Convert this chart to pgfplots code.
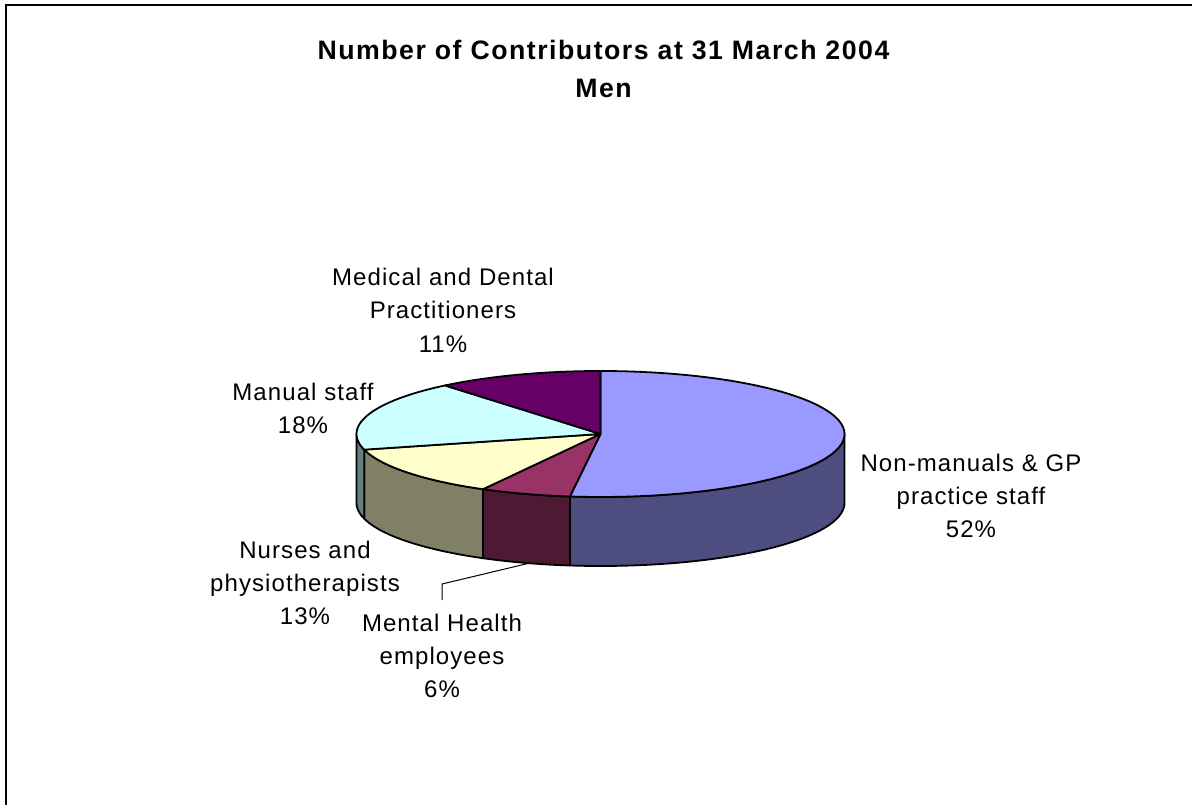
\documentclass[border=0pt]{standalone}
\usepackage{fontspec}
\setmainfont{Liberation Sans}
\usepackage{pgfplots}
\usepackage{pgfplotstable}
\pgfplotsset{compat=1.18}

% Share of contributors per staff group, clockwise from twelve o'clock
\pgfplotstableread{
row share
0   52
1   6
2   13
3   18
4   11
}\pietable

\definecolor{pieTop0}{HTML}{9999FF}
\definecolor{pieTop1}{HTML}{993366}
\definecolor{pieTop2}{HTML}{FFFFCC}
\definecolor{pieTop3}{HTML}{CCFFFF}
\definecolor{pieTop4}{HTML}{660066}
\definecolor{pieWall0}{HTML}{4D4D80}
\definecolor{pieWall1}{HTML}{4D1933}
\definecolor{pieWall2}{HTML}{808066}
\definecolor{pieWall3}{HTML}{668080}
\definecolor{pieWall4}{HTML}{330033}

% Ellipse of the disc and height of its rim, in axis units
\def\cx{600.5}
\def\cy{434}
\def\rx{244}
\def\ry{63}
\def\rim{69}

% Appends points of the arc from angle #1 to #2 to \ptlist, shifted down by #3
\newcommand\arcpoints[3]{%
  \pgfmathtruncatemacro\nsteps{max(1,ceil(abs(#2-#1)/2))}%
  \foreach \i in {0,...,\nsteps}{%
    \pgfmathsetmacro\ang{#1+(#2-#1)/\nsteps*\i}%
    \pgfmathsetmacro\px{\cx+\rx*sin(\ang)}%
    \pgfmathsetmacro\py{\cy-\ry*cos(\ang)+#3}%
    \xdef\ptlist{\ptlist (\px,\py)}%
  }%
}

% Top face of slice #1
\newcommand\slicetop[1]{%
  \pgfplotstablegetelem{#1}{share}\of\pietable
  \pgfmathsetmacro\endang{\startang+3.6*\pgfplotsretval}%
  \xdef\ptlist{(\cx,\cy)}%
  \arcpoints{\startang}{\endang}{0}%
  \edef\temp{\noexpand\addplot[draw=black,fill=pieTop#1,line width=1.8pt,line join=round]
    coordinates {\ptlist (\cx,\cy)};}\temp
  \global\let\startang\endang
}

% Visible part of the rim of slice #1 (the front half of the disc)
\newcommand\slicewall[1]{%
  \pgfplotstablegetelem{#1}{share}\of\pietable
  \pgfmathsetmacro\endang{\startang+3.6*\pgfplotsretval}%
  \pgfmathsetmacro\lo{max(\startang,90)}%
  \pgfmathsetmacro\hi{min(\endang,270)}%
  \ifdim\lo pt<\hi pt
    \xdef\ptlist{}%
    \arcpoints{\lo}{\hi}{0}%
    \arcpoints{\hi}{\lo}{\rim}%
    \edef\temp{\noexpand\addplot[draw=black,fill=pieWall#1,line width=1.8pt,line join=round]
      coordinates {\ptlist} -- cycle;}\temp
  \fi
  \global\let\startang\endang
}

% Label text, one node per line, placed by its baseline
\newfontfamily\labelfont[LetterSpace=4.5]{Liberation Sans}
\newfontfamily\titlefont[LetterSpace=5.7]{Liberation Sans Bold}
\newcommand\lab[3]{\node[anchor=base, inner sep=0pt, font=\fontsize{24}{24}\labelfont] at (axis cs:#1,#2) {#3};}
\newcommand\ttl[3]{\node[anchor=base, inner sep=0pt, font=\fontsize{26.67}{27}\titlefont] at (axis cs:#1,#2) {#3};}

\begin{document}
\begin{tikzpicture}
\path[use as bounding box] (0,0) rectangle (1192pt,805pt);
\begin{axis}[
  at={(0,0)}, anchor=south west,
  scale only axis, width=1192pt, height=805pt,
  xmin=0, xmax=1192, ymin=0, ymax=805, y dir=reverse,
  hide axis,
]
  % Frame: top and left edges only
  \addplot[black, line width=2pt] coordinates {(5.5,805) (5.5,5) (1192,5)};

  \gdef\startang{0}
  \slicewall{0}\slicewall{1}\slicewall{2}\slicewall{3}\slicewall{4}
  \gdef\startang{0}
  \slicetop{0}\slicetop{1}\slicetop{2}\slicetop{3}\slicetop{4}

  % Leader line of the Mental Health label
  \addplot[black, line width=1pt] coordinates {(530,563) (442,584) (442,600)};

  \ttl{603.5}{60}{Number of Contributors at 31 March 2004}
  \ttl{603.5}{98}{Men}
  \lab{443}{286}{Medical and Dental}
  \lab{443}{319}{Practitioners}
  \lab{443}{352}{11\%}
  \lab{303}{400}{Manual staff}
  \lab{303}{433}{18\%}
  \lab{971}{471}{Non-manuals \& GP}
  \lab{971}{504}{practice staff}
  \lab{971}{537}{52\%}
  \lab{305}{558}{Nurses and}
  \lab{305}{591}{physiotherapists}
  \lab{305}{624}{13\%}
  \lab{442}{631}{Mental Health}
  \lab{442}{664}{employees}
  \lab{442}{697}{6\%}
\end{axis}
\end{tikzpicture}
\end{document}
